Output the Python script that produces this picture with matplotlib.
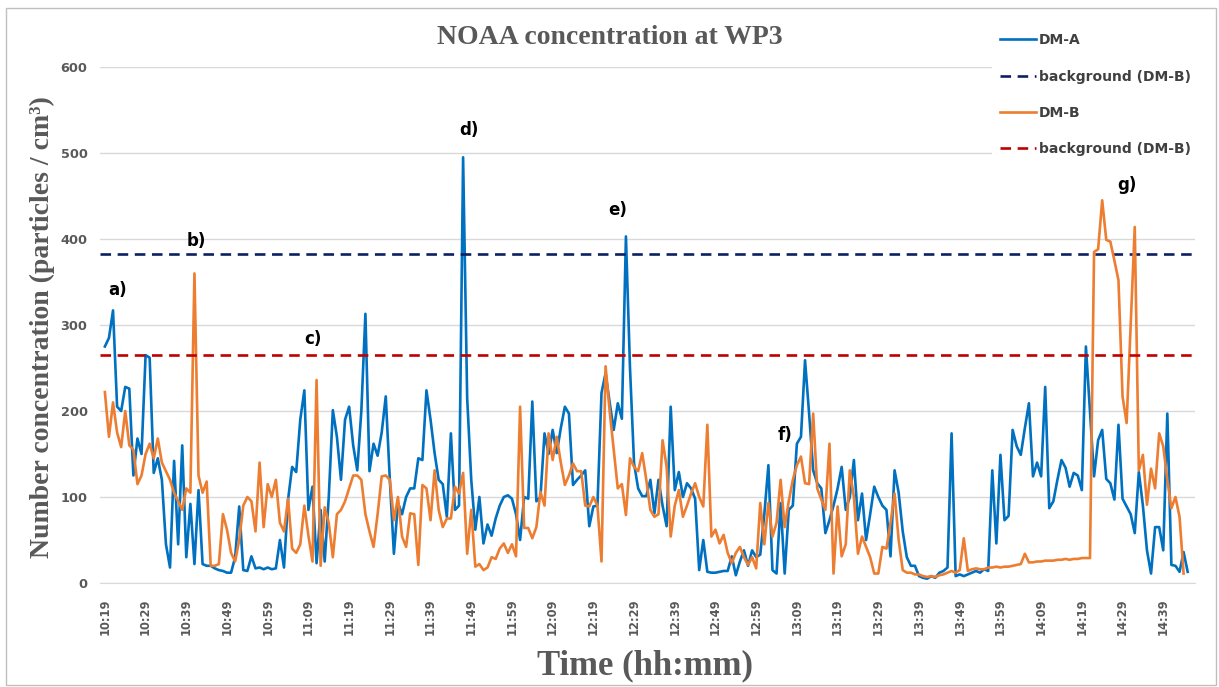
import numpy as np
import matplotlib
matplotlib.use('Agg')
import matplotlib.pyplot as plt
from matplotlib.patches import Rectangle

# one reading per minute, starting 10:19
dm_a = [275, 285, 317, 205, 200, 228, 226, 125, 168, 150,
        265, 262, 128, 145, 120, 45, 18, 142, 45, 160,
        30, 92, 22, 108, 22, 20, 20, 17, 15, 14,
        12, 12, 30, 89, 15, 14, 31, 17, 18, 16,
        18, 16, 17, 50, 18, 97, 135, 129, 190, 224,
        85, 112, 23, 85, 25, 100, 201, 170, 120, 190,
        205, 160, 131, 200, 313, 130, 162, 148, 175, 217,
        120, 34, 93, 80, 100, 110, 110, 145, 143, 224,
        190, 151, 120, 115, 77, 174, 85, 90, 495, 215,
        120, 62, 100, 46, 68, 55, 75, 90, 100, 102,
        98, 80, 50, 100, 98, 211, 95, 100, 174, 150,
        178, 151, 180, 205, 197, 114, 120, 125, 131, 66,
        89, 90, 221, 244, 210, 178, 209, 191, 403, 250,
        139, 110, 101, 101, 120, 81, 120, 90, 66, 205,
        108, 129, 100, 116, 110, 98, 15, 50, 13, 12,
        12, 13, 14, 14, 31, 9, 25, 38, 20, 38,
        30, 33, 80, 137, 15, 11, 93, 11, 85, 90,
        162, 170, 259, 197, 131, 116, 110, 58, 73, 90,
        110, 135, 85, 100, 143, 73, 104, 50, 80, 112,
        100, 90, 85, 31, 131, 105, 60, 30, 20, 20,
        8, 6, 5, 8, 6, 12, 14, 18, 174, 8,
        10, 8, 10, 12, 14, 12, 16, 14, 131, 46,
        149, 73, 78, 178, 159, 149, 180, 209, 124, 140,
        124, 228, 87, 95, 120, 143, 134, 112, 128, 125,
        108, 275, 200, 124, 166, 178, 121, 116, 97, 184,
        98, 89, 80, 58, 129, 90, 38, 11, 65, 65,
        38, 197, 21, 20, 13, 36, 13]

dm_b = [222, 170, 210, 175, 158, 200, 160, 155, 115, 125,
        150, 162, 145, 168, 140, 130, 120, 105, 95, 85,
        110, 105, 360, 125, 105, 118, 20, 20, 22, 80,
        62, 35, 25, 50, 90, 100, 95, 60, 140, 65,
        115, 100, 120, 70, 60, 98, 40, 35, 45, 90,
        55, 25, 236, 20, 88, 70, 30, 80, 85, 95,
        110, 125, 125, 120, 80, 60, 42, 80, 124, 125,
        120, 73, 100, 54, 42, 81, 80, 21, 114, 110,
        73, 131, 85, 65, 75, 75, 112, 104, 128, 34,
        85, 19, 22, 15, 18, 30, 28, 40, 46, 35,
        45, 31, 205, 64, 64, 52, 65, 106, 90, 174,
        143, 170, 140, 114, 125, 139, 130, 130, 90, 89,
        100, 90, 25, 252, 200, 155, 110, 115, 79, 145,
        135, 130, 151, 120, 85, 77, 80, 166, 135, 54,
        90, 108, 77, 90, 104, 116, 100, 89, 184, 54,
        62, 46, 56, 35, 23, 35, 42, 30, 21, 30,
        17, 93, 45, 93, 54, 70, 120, 65, 95, 120,
        137, 147, 116, 115, 197, 110, 97, 85, 162, 11,
        89, 31, 45, 131, 100, 34, 54, 42, 30, 11,
        11, 42, 40, 70, 104, 50, 15, 12, 12, 10,
        10, 8, 7, 8, 7, 9, 10, 12, 14, 12,
        15, 52, 14, 16, 17, 16, 16, 18, 18, 19,
        18, 19, 19, 20, 21, 22, 34, 24, 24, 25,
        25, 26, 26, 26, 27, 27, 28, 27, 28, 28,
        29, 29, 29, 385, 388, 445, 399, 397, 375, 352,
        217, 186, 300, 414, 131, 149, 91, 133, 110, 174,
        159, 120, 87, 100, 77, 11]

background_a = 383
background_b = 265

tick_labels = ['10:19', '10:29', '10:39', '10:49', '10:59', '11:09', '11:19',
               '11:29', '11:39', '11:49', '11:59', '12:09', '12:19', '12:29',
               '12:39', '12:49', '12:59', '13:09', '13:19', '13:29', '13:39',
               '13:49', '13:59', '14:09', '14:19', '14:29', '14:39']

events = ['a)', 'b)', 'c)', 'd)', 'e)', 'f)', 'g)']
event_x = [3, 22.5, 51, 89.5, 126, 167, 251]
event_y = [341, 398, 284, 527, 434, 172, 463]

W, H = 1219, 687
fig = plt.figure(figsize=(W / 100, H / 100), dpi=100)
ax = fig.add_axes([100 / W, 104 / H, 1095 / W, 516 / H])

blue = '#0070C0'
orange = '#ED7D31'
navy = '#0D1F63'
red = '#C00000'

ax.plot(np.arange(len(dm_a)), dm_a, color=blue, lw=1.9, label='DM-A', zorder=3)
ax.axhline(background_a, color=navy, lw=1.9, ls=(0, (4, 2.5)),
           label='background (DM-B)', zorder=3)
ax.plot(np.arange(len(dm_b)), dm_b, color=orange, lw=1.9, label='DM-B', zorder=4)
ax.axhline(background_b, color=red, lw=1.9, ls=(0, (4, 2.5)),
           label='background (DM-B)', zorder=4)

ax.set_xlim(-1.2, 267.8)
ax.set_ylim(0, 600)
ax.set_yticks(np.arange(0, 601, 100))
ax.set_xticks(np.arange(0, 10 * len(tick_labels), 10))
ax.set_xticklabels(tick_labels, rotation=90)

for s in ['top', 'right', 'left']:
    ax.spines[s].set_visible(False)
ax.spines['bottom'].set_color('#d9d9d9')
ax.yaxis.grid(True, color='#d9d9d9', lw=1)
ax.set_axisbelow(True)
ax.tick_params(length=0, colors='#595959', labelsize=9.3)
ax.tick_params(axis='x', pad=11, labelsize=8.3)
ax.tick_params(axis='y', pad=9)
for lab in ax.get_xticklabels() + ax.get_yticklabels():
    lab.set_fontweight('bold')

for t, xv, yv in zip(events, event_x, event_y):
    ax.text(xv, yv, t, ha='center', va='center', fontsize=12,
            fontweight='bold', color='black')

serif = 'Liberation Serif'
fig.text(610 / W, 1 - 37 / H, 'NOAA concentration at WP3', ha='center',
         va='center', family=serif, weight='bold', size=20, color='#595959')
fig.text(645 / W, 1 - 666 / H, 'Time (hh:mm)', ha='center', va='center',
         family=serif, weight='bold', size=25, color='#595959')
fig.text(42 / W, 1 - 327 / H, 'Number concentration (particles / cm³)',
         ha='center', va='center', rotation=90, family=serif, weight='bold',
         size=20, color='#595959')

leg = ax.legend(loc='upper left', bbox_to_anchor=(985 / W, 1 - 18 / H),
                bbox_transform=fig.transFigure, frameon=True, facecolor='white',
                edgecolor='none', framealpha=1, handlelength=2.6,
                handletextpad=0.2, labelspacing=1.6, borderpad=0.6,
                prop=dict(family='DejaVu Sans', weight='bold', size=10))
for txt in leg.get_texts():
    txt.set_color('#404040')

fig.patches.append(Rectangle((6 / W, 2 / H), 1210 / W, 677 / H,
                             transform=fig.transFigure, fill=False,
                             ec='#bfbfbf', lw=1))

fig.savefig('out.png', dpi=100)
